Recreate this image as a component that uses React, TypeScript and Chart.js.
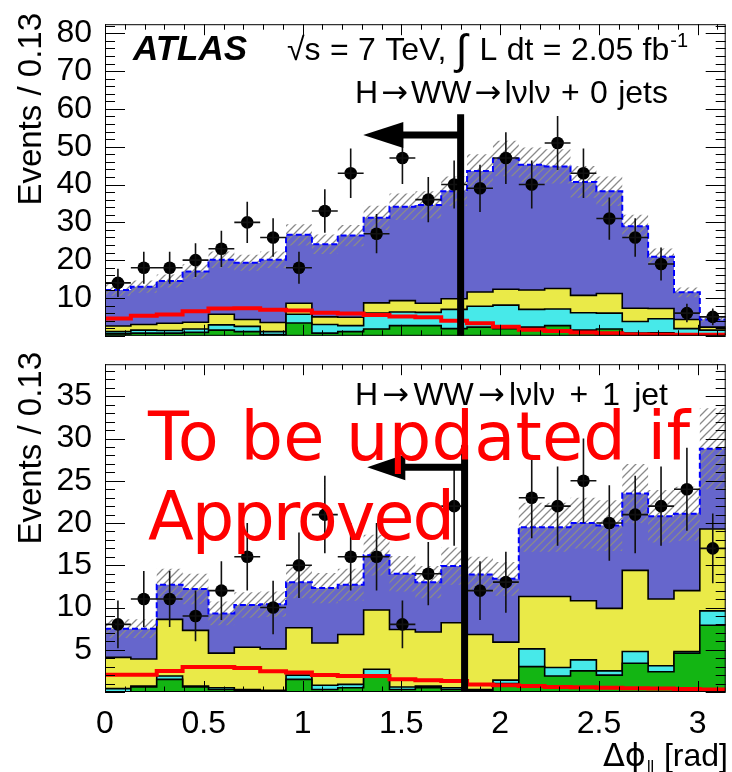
import React, { useEffect, useRef } from 'react';
import { Chart, registerables } from 'chart.js';

Chart.register(...registerables);

// ---------- binning / axes ----------
const N_BINS = 24;
const BIN_W = Math.PI / N_BINS; // 0.13 rad
const X_TICKS = [0, 0.5, 1, 1.5, 2, 2.5, 3];
const X_TICK_LABELS = ['0', '0.5', '1', '1.5', '2', '2.5', '3'];
const Y_TICKS_0 = [10, 20, 30, 40, 50, 60, 70, 80];
const Y_TICKS_1 = [5, 10, 15, 20, 25, 30, 35];

// ---------- 0-jet panel ----------
const data0 = [14, 18, 18, 20, 23, 30, 26, 18, 33, 43, 27, 47, 36, 40, 39, 47, 40, 51, 43, 31, 26, 19, 6, 5];
const blue0 = [9.5, 10.0, 11.2, 13.4, 14.4, 15.0, 16.6, 18.1, 19.2, 21.6, 22.5, 24.8, 26.0, 28.4, 32.0, 34.6, 33.1, 32.3, 30.0, 27.0, 21.7, 13.7, 7.2, 2.0];
const yellow0 = [1.5, 1.5, 1.9, 1.8, 2.8, 1.8, 2.4, 2.9, 2.0, 2.2, 2.7, 3.0, 2.4, 2.8, 3.8, 4.2, 5.1, 5.4, 4.6, 5.2, 3.5, 2.7, 2.4, 0.8];
const cyan0 = [0.6, 0.8, 0.7, 0.9, 1.4, 1.4, 0.8, 2.3, 2.3, 1.6, 4.2, 3.6, 3.5, 5.1, 5.5, 6.2, 4.7, 4.4, 4.6, 4.2, 3.1, 3.7, 1.4, 1.1];
const green0 = [0.5, 0.7, 0.7, 0.9, 1.5, 1.1, 0.3, 3.4, 0.7, 1.1, 1.8, 2.7, 2.7, 1.9, 2.3, 1.9, 2.3, 2.7, 1.5, 1.8, 0.7, 0.8, 0.5, 0.4];
const err0 = [1.5, 1.6, 1.7, 1.9, 2.2, 2.1, 2.2, 2.8, 2.6, 2.8, 3.2, 3.5, 3.6, 3.9, 4.4, 4.7, 4.6, 4.5, 4.2, 3.9, 3.0, 2.2, 1.3, 0.6];
const red0 = [4.6, 5.3, 5.6, 6.5, 7.2, 7.3, 6.9, 6.7, 6.1, 5.9, 5.5, 5.1, 4.9, 4.0, 3.3, 2.4, 1.6, 1.3, 0.9, 0.7, 0.35, 0.3, 0.3, 0.3];

// ---------- 1-jet panel ----------
const data1 = [8, 11, 11, 9, 12, 16, 10, 15, 21, 16, 16, 8, 14, 22, 12, 13, 23, 22, 25, 20, 21, 22, 24, 17];
const blue1 = [3.4, 3.6, 4.1, 4.9, 4.7, 5.0, 5.3, 5.4, 6.5, 5.9, 6.5, 6.6, 5.9, 6.7, 7.1, 7.5, 8.2, 8.2, 9.2, 9.8, 9.1, 9.8, 9.1, 9.5];
const yellow1 = [3.7, 3.2, 6.7, 6.6, 4.1, 5.0, 4.9, 5.6, 5.0, 5.9, 7.0, 6.8, 6.4, 7.7, 6.5, 4.5, 6.2, 8.4, 7.0, 7.4, 9.6, 7.9, 7.2, 9.7];
const cyan1 = [0.4, 0.1, 0.4, 0.1, 0.2, 0.1, 0.1, 0.5, 0.5, 0.4, 0.7, 0.3, 0.2, 0.2, 0.1, 0.4, 2.1, 1.0, 1.3, 0.5, 1.4, 0.7, 0.2, 1.7];
const green1 = [0.0, 0.6, 1.5, 0.6, 0.3, 0.2, 0.1, 1.5, 0.3, 0.5, 2.0, 0.3, 0.5, 0.3, 0.2, 1.0, 3.0, 1.9, 2.5, 2.0, 3.4, 2.4, 4.6, 7.9];
const err1 = [1.1, 1.1, 1.9, 1.8, 1.4, 1.5, 1.5, 1.9, 1.8, 1.9, 2.4, 2.1, 1.9, 2.2, 2.1, 2.0, 2.9, 2.9, 3.0, 3.0, 3.5, 3.1, 3.2, 4.8];
const red1 = [2.05, 2.05, 2.5, 2.95, 2.95, 2.85, 2.45, 2.3, 2.0, 1.9, 1.9, 1.5, 1.4, 1.3, 0.9, 0.8, 0.7, 0.6, 0.55, 0.5, 0.45, 0.4, 0.35, 0.3];

// ---------- cut arrows ----------
const CUT_0 = { x: 1.8, top: 58.6, arrowY: 53.1, tip: 1.307, base: 1.51 };
const CUT_1 = { x: 1.82, top: 29.2, arrowY: 26.6, tip: 1.327, base: 1.52 };

const FONT = '"Liberation Sans", Arial, Helvetica, sans-serif';
const DJV = '"DejaVu Sans", sans-serif';
const C_BLUE = '#6666cc';
const C_YELLOW = '#eaea48';
const C_CYAN = '#47e9e9';
const C_GREEN = '#13b513';

type Pt = { x: number; y: number };
type Tok = { t: string; font: string; dy?: number; gap?: number };

function stepPoints(vals: number[]): Pt[] {
  const pts: Pt[] = [];
  vals.forEach((v, i) => {
    pts.push({ x: i * BIN_W, y: v });
    pts.push({ x: (i + 1) * BIN_W, y: v });
  });
  return pts;
}

function sumArrays(...arrs: number[][]): number[] {
  return arrs[0].map((_, i) => arrs.reduce((s, a) => s + a[i], 0));
}

function makeHatch(): CanvasPattern | string {
  const c = document.createElement('canvas');
  c.width = 8;
  c.height = 8;
  const g = c.getContext('2d');
  if (!g) return 'rgba(128,128,128,0.4)';
  g.strokeStyle = '#8a8a8a';
  g.lineWidth = 1.3;
  g.beginPath();
  g.moveTo(0, 8);
  g.lineTo(8, 0);
  g.moveTo(-2, 2);
  g.lineTo(2, -2);
  g.moveTo(6, 10);
  g.lineTo(10, 6);
  g.stroke();
  return g.createPattern(c, 'repeat') || 'rgba(128,128,128,0.4)';
}

// draws tokens spread over a given total width
function drawTokens(ctx: CanvasRenderingContext2D, toks: Tok[], x: number, y: number, total: number) {
  const widths = toks.map((k) => {
    ctx.font = k.font;
    return ctx.measureText(k.t).width;
  });
  const sumW = widths.reduce((a, b) => a + b, 0);
  const gapW = toks.slice(1).reduce((s, k) => s + (k.gap ?? 1), 0);
  const unit = gapW > 0 ? (total - sumW) / gapW : 0;
  let cx = x;
  toks.forEach((k, i) => {
    if (i > 0) cx += unit * (k.gap ?? 1);
    ctx.font = k.font;
    ctx.fillText(k.t, cx, y + (k.dy || 0));
    cx += widths[i];
  });
}

function fitText(ctx: CanvasRenderingContext2D, text: string, x: number, y: number, width: number) {
  const anyCtx = ctx as any;
  anyCtx.letterSpacing = '0px';
  const w = ctx.measureText(text).width;
  const n = Array.from(text).length;
  if (n > 1 && 'letterSpacing' in anyCtx) {
    anyCtx.letterSpacing = ((width - w) / (n - 1)).toFixed(2) + 'px';
  }
  ctx.fillText(text, x, y);
  anyCtx.letterSpacing = '0px';
}

function drawYTitle(ctx: CanvasRenderingContext2D, baseX: number, endY: number) {
  ctx.save();
  ctx.translate(baseX, endY);
  ctx.rotate(-Math.PI / 2);
  ctx.font = `33px ${FONT}`;
  ctx.fillStyle = '#000';
  ctx.textAlign = 'right';
  ctx.textBaseline = 'alphabetic';
  ctx.fillText('Events / 0.13', 0, 0);
  ctx.restore();
}

function processLabel(jets: string[]): Tok[] {
  const F = `32px ${FONT}`;
  const A = `32px ${DJV}`;
  const base: Tok[] = [
    { t: 'H', font: F },
    { t: '\u2192', font: A, gap: 0.3 },
    { t: 'WW', font: F, gap: 0.3 },
    { t: '\u2192', font: A, gap: 0.3 },
    { t: 'l\u03BDl\u03BD', font: F, gap: 0.3 },
    { t: '+', font: F, gap: 1 },
  ];
  return base.concat(jets.map((t) => ({ t, font: F, gap: 1 })));
}

interface PanelCfg {
  data: number[];
  blue: number[];
  yellow: number[];
  cyan: number[];
  green: number[];
  err: number[];
  red: number[];
  yMax: number;
  yTicks: number[];
  yMajor: number;
  yMinor: number;
  cut: { x: number; top: number; arrowY: number; tip: number; base: number };
  showX: boolean;
  padTop: number;
  padBottom: number;
  xAxisHeight: number;
  decorate: (ctx: CanvasRenderingContext2D, chart: any) => void;
}

function buildChart(canvas: HTMLCanvasElement, cfg: PanelCfg): Chart {
  const total = sumArrays(cfg.blue, cfg.yellow, cfg.cyan, cfg.green);
  const yTop = sumArrays(cfg.yellow, cfg.cyan, cfg.green);
  const cTop = sumArrays(cfg.cyan, cfg.green);
  const hi = total.map((t, i) => t + cfg.err[i]);
  const lo = total.map((t, i) => t - cfg.err[i]);
  const points = cfg.data.map((v, i) => ({ x: (i + 0.5) * BIN_W, y: v }));
  const hatch = makeHatch();

  const decor = {
    id: 'decor',
    afterDatasetsDraw(chart: any) {
      const ctx: CanvasRenderingContext2D = chart.ctx;
      const xs = chart.scales.x;
      const ys = chart.scales.y;
      ctx.save();
      ctx.strokeStyle = '#111';
      ctx.lineWidth = 1.6;
      ctx.beginPath();
      cfg.data.forEach((v, i) => {
        const e = Math.sqrt(v);
        const xc = xs.getPixelForValue((i + 0.5) * BIN_W);
        const x1 = xs.getPixelForValue(i * BIN_W);
        const x2 = xs.getPixelForValue((i + 1) * BIN_W);
        const yc = ys.getPixelForValue(v);
        ctx.moveTo(xc, ys.getPixelForValue(v - e));
        ctx.lineTo(xc, ys.getPixelForValue(v + e));
        ctx.moveTo(x1, yc);
        ctx.lineTo(x2, yc);
      });
      ctx.stroke();
      const c = cfg.cut;
      const cx = xs.getPixelForValue(c.x);
      const ay = ys.getPixelForValue(c.arrowY);
      ctx.strokeStyle = '#000';
      ctx.fillStyle = '#000';
      ctx.lineWidth = 7;
      ctx.beginPath();
      ctx.moveTo(cx, ys.getPixelForValue(0));
      ctx.lineTo(cx, ys.getPixelForValue(c.top));
      ctx.moveTo(cx, ay);
      ctx.lineTo(xs.getPixelForValue(c.base) - 2, ay);
      ctx.stroke();
      const bx = xs.getPixelForValue(c.base);
      ctx.beginPath();
      ctx.moveTo(xs.getPixelForValue(c.tip), ay);
      ctx.lineTo(bx, ay - 13);
      ctx.lineTo(bx, ay + 13);
      ctx.closePath();
      ctx.fill();
      ctx.restore();
    },
    afterDraw(chart: any) {
      const ctx: CanvasRenderingContext2D = chart.ctx;
      const xs = chart.scales.x;
      const ys = chart.scales.y;
      const { left, right, top, bottom } = chart.chartArea;
      ctx.save();
      ctx.strokeStyle = '#000';
      ctx.lineWidth = 1;
      ctx.strokeRect(left + 0.5, top + 0.5, right - left - 1, bottom - top - 1);
      ctx.beginPath();
      const nY = Math.floor(cfg.yMax / cfg.yMinor + 1e-6);
      for (let k = 0; k <= nY; k++) {
        const v = k * cfg.yMinor;
        const y = Math.round(ys.getPixelForValue(v)) + 0.5;
        const r = v / cfg.yMajor;
        const major = Math.abs(r - Math.round(r)) < 1e-6;
        const len = major ? 20 : 10;
        ctx.moveTo(left, y);
        ctx.lineTo(left + len, y);
        ctx.moveTo(right, y);
        ctx.lineTo(right - len, y);
      }
      for (let k = 0; k * 0.1 <= Math.PI; k++) {
        const x = Math.round(xs.getPixelForValue(k * 0.1)) + 0.5;
        const len = k % 5 === 0 ? 11 : 5.5;
        ctx.moveTo(x, bottom);
        ctx.lineTo(x, bottom - len);
        ctx.moveTo(x, top);
        ctx.lineTo(x, top + len);
      }
      ctx.stroke();
      ctx.restore();
      ctx.save();
      cfg.decorate(ctx, chart);
      ctx.restore();
    },
  };

  const line = (pts: Pt[], extra: any) => ({
    type: 'line',
    data: pts,
    pointRadius: 0,
    borderWidth: 0,
    tension: 0,
    fill: false,
    ...extra,
  });

  return new Chart(canvas, {
    type: 'line',
    data: {
      datasets: [
        line(stepPoints(total), { fill: 'origin', backgroundColor: C_BLUE, order: 10 }),
        line(stepPoints(lo), { order: 9 }),
        line(stepPoints(hi), { fill: 1, backgroundColor: hatch, order: 8 }),
        line(stepPoints(yTop), { fill: 'origin', backgroundColor: C_YELLOW, borderColor: '#000', borderWidth: 1.6, order: 7 }),
        line(stepPoints(cTop), { fill: 'origin', backgroundColor: C_CYAN, borderColor: '#000', borderWidth: 1.6, order: 6 }),
        line(stepPoints(cfg.green), { fill: 'origin', backgroundColor: C_GREEN, borderColor: '#000', borderWidth: 1.6, order: 5 }),
        line(stepPoints(total), { borderColor: '#0000ff', borderWidth: 2, borderDash: [6, 3], order: 4 }),
        line(stepPoints(cfg.red), { borderColor: '#ff0000', borderWidth: 4, order: 3 }),
        {
          type: 'line',
          data: points,
          showLine: false,
          pointRadius: 6.3,
          pointHoverRadius: 6.3,
          pointBackgroundColor: '#000',
          pointBorderWidth: 0,
          order: 1,
        },
      ] as any,
    },
    options: {
      animation: false,
      responsive: false,
      devicePixelRatio: 1,
      events: [],
      layout: { padding: { top: cfg.padTop, right: 2, bottom: cfg.padBottom, left: 0 } },
      plugins: { legend: { display: false }, tooltip: { enabled: false } },
      scales: {
        x: {
          type: 'linear',
          min: 0,
          max: Math.PI,
          display: cfg.showX,
          grid: { display: false },
          border: { display: false },
          ticks: {
            autoSkip: false,
            maxRotation: 0,
            padding: 5,
            color: '#000',
            font: { family: FONT, size: 32 },
            callback: (_v: any, i: number) => X_TICK_LABELS[i],
          },
          afterBuildTicks: (s: any) => {
            s.ticks = X_TICKS.map((v) => ({ value: v }));
          },
          afterFit: (s: any) => {
            s.height = cfg.xAxisHeight;
          },
        },
        y: {
          type: 'linear',
          min: 0,
          max: cfg.yMax,
          grid: { display: false },
          border: { display: false },
          ticks: {
            padding: 5,
            color: '#000',
            font: { family: FONT, size: 32 },
            callback: (v: any) => String(v),
          },
          afterBuildTicks: (s: any) => {
            s.ticks = cfg.yTicks.map((v) => ({ value: v }));
          },
          afterFit: (s: any) => {
            s.width = 105;
          },
        },
      } as any,
    } as any,
    plugins: [decor as any],
  } as any);
}

const TOP_CANVAS_H = 360;
const BOT_CANVAS_TOP = 340;
const BOT_CANVAS_H = 432;

export default function App() {
  const topRef = useRef<HTMLCanvasElement>(null);
  const botRef = useRef<HTMLCanvasElement>(null);

  useEffect(() => {
    if (!topRef.current || !botRef.current) return;
    const c0 = buildChart(topRef.current, {
      data: data0,
      blue: blue0,
      yellow: yellow0,
      cyan: cyan0,
      green: green0,
      err: err0,
      red: red0,
      yMax: 82.4,
      yTicks: Y_TICKS_0,
      yMajor: 10,
      yMinor: 2,
      cut: CUT_0,
      showX: false,
      padTop: 13.5,
      padBottom: TOP_CANVAS_H - 358,
      xAxisHeight: 0,
      decorate: (ctx) => {
        ctx.fillStyle = '#000';
        ctx.textBaseline = 'alphabetic';
        ctx.textAlign = 'left';
        ctx.font = `italic bold 35px ${FONT}`;
        ctx.fillText('ATLAS', 133, 60);
        const F = `32px ${FONT}`;
        drawTokens(
          ctx,
          [
            { t: '\u221As', font: F },
            { t: '=', font: F },
            { t: '7', font: F },
            { t: 'TeV,', font: F },
            { t: '\u222B', font: `42px ${FONT}`, dy: 4 },
            { t: 'L', font: F, gap: 1.3 },
            { t: 'dt', font: F },
            { t: '=', font: F },
            { t: '2.05', font: F },
            { t: 'fb', font: F },
            { t: '-1', font: `20px ${FONT}`, dy: -13, gap: 0.1 },
          ],
          287,
          60,
          401
        );
        drawTokens(ctx, processLabel(['0', 'jets']), 355, 103, 313);
        drawYTitle(ctx, 41, 13);
      },
    });
    const c1 = buildChart(botRef.current, {
      data: data1,
      blue: blue1,
      yellow: yellow1,
      cyan: cyan1,
      green: green1,
      err: err1,
      red: red1,
      yMax: 38.8,
      yTicks: Y_TICKS_1,
      yMajor: 5,
      yMinor: 1,
      cut: CUT_1,
      showX: true,
      padTop: 358 - BOT_CANVAS_TOP,
      padBottom: 0,
      xAxisHeight: BOT_CANVAS_TOP + BOT_CANVAS_H - 692,
      decorate: (ctx) => {
        const dy = BOT_CANVAS_TOP;
        ctx.fillStyle = '#000';
        ctx.textBaseline = 'alphabetic';
        ctx.textAlign = 'left';
        drawTokens(ctx, processLabel(['1', 'jet']), 355, 405 - dy, 313);
        drawYTitle(ctx, 41, 352 - dy);
        // x-axis title
        ctx.textAlign = 'right';
        ctx.font = `32px ${FONT}`;
        ctx.fillText(' [rad]', 728, 766 - dy);
        const wr = ctx.measureText(' [rad]').width;
        ctx.font = `16px ${FONT}`;
        ctx.fillText('ll', 728 - wr - 1, 772 - dy);
        const wl = ctx.measureText('ll').width;
        ctx.font = `32px ${DJV}`;
        ctx.fillText('\u0394\u03D5', 728 - wr - wl - 2, 766 - dy);
        // stamp
        ctx.fillStyle = '#ff0000';
        ctx.textAlign = 'left';
        ctx.font = `67px ${DJV}`;
        fitText(ctx, 'To be updated if', 148, 460 - dy, 542);
        fitText(ctx, 'Approved', 148, 540 - dy, 307);
      },
    });
    return () => {
      c0.destroy();
      c1.destroy();
    };
  }, []);

  return (
    <div style={{ position: 'absolute', left: 0, top: 0, width: 732, height: 772, background: '#fff', overflow: 'hidden' }}>
      <canvas ref={topRef} width={732} height={TOP_CANVAS_H} style={{ position: 'absolute', left: 0, top: 0 }} />
      <canvas ref={botRef} width={732} height={BOT_CANVAS_H} style={{ position: 'absolute', left: 0, top: BOT_CANVAS_TOP }} />
    </div>
  );
}
